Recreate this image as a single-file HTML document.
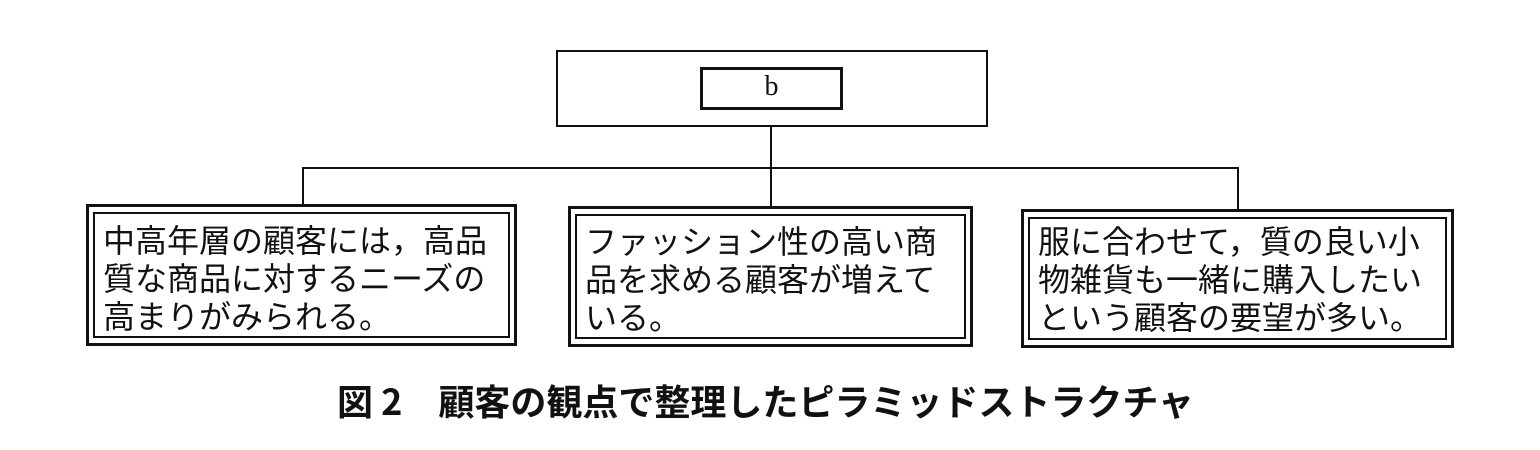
<!DOCTYPE html>
<html><head><meta charset="utf-8"><style>
body{margin:0;width:1540px;height:450px;background:#fff;position:relative;overflow:hidden;font-family:"Liberation Serif","Noto Serif CJK SC","Noto Sans CJK JP",serif;color:#111}
.a{position:absolute;box-sizing:border-box}
.box{border:3px solid #111;}
.inner{position:absolute;left:4px;top:5px;right:4px;bottom:5px;border:2px solid #111;}
.t{position:absolute;left:10px;top:5px;font-size:32px;line-height:38px;white-space:nowrap;letter-spacing:0px;font-family:"Noto Sans CJK JP",sans-serif;font-weight:400}
.l{position:absolute;background:#111}
</style></head><body>
<div class="a" style="left:556px;top:50px;width:432px;height:77px;border:2px solid #111"></div>
<div class="a" style="left:700px;top:67px;width:143px;height:43px;border:3px solid #111;text-align:center;font-family:'Liberation Serif',serif;font-size:28px;line-height:34px">b</div>
<div class="l" style="left:770px;top:126px;width:2px;height:82px"></div>
<div class="l" style="left:302px;top:167px;width:937px;height:2px"></div>
<div class="l" style="left:302px;top:167px;width:2px;height:38px"></div>
<div class="l" style="left:1237px;top:167px;width:2px;height:43px"></div>

<div class="a box" style="left:86px;top:204px;width:431px;height:142px"><div class="inner"></div><div class="t" style="left:14px;top:13px">中高年層の顧客には，高品<br>質な商品に対するニーズの<br>高まりがみられる。</div></div>
<div class="a box" style="left:568px;top:206px;width:405px;height:141px"><div class="inner"></div><div class="t" style="left:14px;top:12px">ファッション性の高い商<br>品を求める顧客が増えて<br>いる。</div></div>
<div class="a box" style="left:1021px;top:209px;width:433px;height:139px"><div class="inner"></div><div class="t" style="left:14px;top:9px">服に合わせて，質の良い小<br>物雑貨も一緒に購入したい<br>という顧客の要望が多い。</div></div>

<div class="a" style="left:337px;top:377px;font-family:'Noto Sans CJK JP',sans-serif;font-weight:700;font-size:36px;line-height:46px;white-space:nowrap;letter-spacing:0px">図 2　顧客の観点で整理したピラミッドストラクチャ</div>
</body></html>
